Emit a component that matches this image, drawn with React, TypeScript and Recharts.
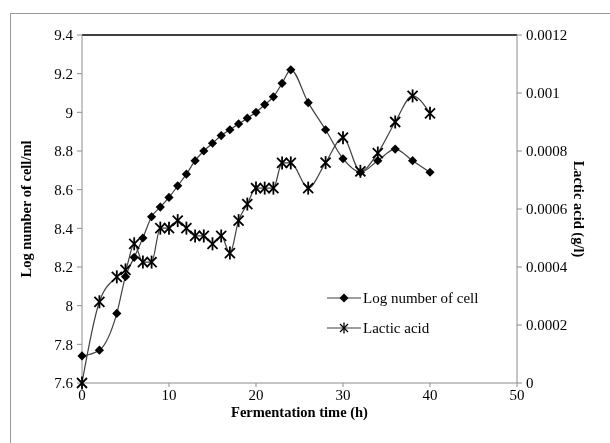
import React from 'react';
import { LineChart, Line, XAxis, YAxis, ReferenceLine } from 'recharts';

const times = [0, 2, 4, 5, 6, 7, 8, 9, 10, 11, 12, 13, 14, 15, 16, 17, 18, 19, 20, 21, 22, 23, 24, 26, 28, 30, 32, 34, 36, 38, 40];
const logCell = [7.74, 7.77, 7.96, 8.15, 8.25, 8.35, 8.46, 8.51, 8.56, 8.62, 8.68, 8.75, 8.8, 8.84, 8.88, 8.91, 8.94, 8.97, 9.0, 9.04, 9.08, 9.15, 9.22, 9.05, 8.91, 8.76, 8.69, 8.75, 8.81, 8.75, 8.69];
const lacticAcid = [0, 0.00028, 0.000366, 0.00039, 0.00048, 0.000417, 0.000417, 0.000534, 0.000534, 0.00056, 0.000534, 0.000507, 0.000507, 0.00048, 0.000507, 0.000448, 0.00056, 0.000617, 0.000672, 0.000672, 0.000672, 0.000759, 0.000759, 0.000672, 0.00076, 0.000846, 0.00073, 0.000793, 0.0009, 0.00099, 0.00093];
const xTicks = [0, 10, 20, 30, 40, 50];
const leftTicks = [7.6, 7.8, 8, 8.2, 8.4, 8.6, 8.8, 9, 9.2, 9.4];
const rightTicks = [0, 0.0002, 0.0004, 0.0006, 0.0008, 0.001, 0.0012];
const seriesNames = ['Log number of cell', 'Lactic acid'];

const data = times.map((t, i) => ({ t, cell: logCell[i], lactic: lacticAcid[i] }));

const FONT = '"Liberation Serif", "Times New Roman", serif';
const LINE = '#404040';
const AXIS = '#8c8c8c';

const Diamond = (props: any) => {
  const { cx, cy } = props;
  if (cx == null || cy == null) return null;
  const r = 4.6;
  return <polygon points={`${cx},${cy - r} ${cx + r},${cy} ${cx},${cy + r} ${cx - r},${cy}`} fill="#000" />;
};

const Star = (props: any) => {
  const { cx, cy } = props;
  if (cx == null || cy == null) return null;
  const a = 5;
  const v = 6.5;
  return (
    <g stroke="#000" strokeWidth={1.8}>
      <line x1={cx - a} y1={cy - a} x2={cx + a} y2={cy + a} />
      <line x1={cx - a} y1={cy + a} x2={cx + a} y2={cy - a} />
      <line x1={cx} y1={cy - v} x2={cx} y2={cy + v} />
    </g>
  );
};

const LegendBox = () => (
  <div style={{ position: 'fixed', left: 327, top: 283, fontFamily: FONT, fontSize: 15, color: '#000', lineHeight: '30px' }}>
    <div style={{ display: 'flex', alignItems: 'center' }}>
      <svg width={34} height={14}>
        <line x1={0} y1={7} x2={34} y2={7} stroke={LINE} strokeWidth={1.2} />
        <polygon points="17,2.5 21.5,7 17,11.5 12.5,7" fill="#000" />
      </svg>
      <span style={{ marginLeft: 2 }}>{seriesNames[0]}</span>
    </div>
    <div style={{ display: 'flex', alignItems: 'center' }}>
      <svg width={34} height={14}>
        <line x1={0} y1={7} x2={34} y2={7} stroke={LINE} strokeWidth={1.2} />
        <g stroke="#000" strokeWidth={1.3}>
          <line x1={13} y1={3} x2={21} y2={11} />
          <line x1={13} y1={11} x2={21} y2={3} />
          <line x1={17} y1={1.5} x2={17} y2={12.5} />
        </g>
      </svg>
      <span style={{ marginLeft: 2 }}>{seriesNames[1]}</span>
    </div>
  </div>
);

export default function App() {
  return (
    <div>
      <div style={{ position: 'fixed', left: 10, top: 13, width: 600, height: 430, borderLeft: '1px solid #9a9a9a', borderTop: '1px solid #9a9a9a', boxSizing: 'border-box' }} />
      <div style={{ position: 'fixed', left: 0, top: 0, width: 610, height: 443 }}>
        <LineChart width={610} height={443} data={data} margin={{ top: 35, right: 33, bottom: 30, left: 22 }}>
          <XAxis
            dataKey="t"
            type="number"
            domain={[0, 50]}
            ticks={xTicks}
            stroke={AXIS}
            tickSize={4}
            tickMargin={2}
            height={30}
            tick={{ fill: '#000', fontSize: 15, fontFamily: FONT }}
            label={{ value: 'Fermentation time (h)', position: 'insideBottom', offset: -4, fill: '#000', fontSize: 14.5, fontWeight: 'bold', fontFamily: FONT }}
          />
          <YAxis
            yAxisId="left"
            domain={[7.6, 9.4]}
            ticks={leftTicks}
            tickFormatter={(v: number) => String(Number(v.toFixed(1)))}
            stroke={AXIS}
            tickSize={5}
            tickMargin={4}
            width={60}
            interval={0}
            tick={{ fill: '#000', fontSize: 15, fontFamily: FONT }}
            label={{ value: 'Log number of cell/ml', angle: -90, position: 'insideLeft', offset: 4, fill: '#000', fontSize: 14.5, fontWeight: 'bold', fontFamily: FONT, style: { textAnchor: 'middle' } }}
          />
          <YAxis
            yAxisId="right"
            orientation="right"
            domain={[0, 0.0012]}
            ticks={rightTicks}
            tickFormatter={(v: number) => String(Number(v.toFixed(4)))}
            stroke={AXIS}
            tickSize={5}
            tickMargin={4}
            width={60}
            interval={0}
            tick={{ fill: '#000', fontSize: 15, fontFamily: FONT }}
            label={{ value: 'Lactic acid (g/l)', angle: 90, position: 'insideRight', offset: -2, fill: '#000', fontSize: 14.5, fontWeight: 'bold', fontFamily: FONT, style: { textAnchor: 'middle' } }}
          />
          <ReferenceLine yAxisId="left" y={9.4} stroke="#000" strokeWidth={1.3} />
          <Line yAxisId="left" type="monotone" dataKey="cell" stroke={LINE} strokeWidth={1.2} dot={<Diamond />} activeDot={false} isAnimationActive={false} name={seriesNames[0]} />
          <Line yAxisId="right" type="monotone" dataKey="lactic" stroke={LINE} strokeWidth={1.2} dot={<Star />} activeDot={false} isAnimationActive={false} name={seriesNames[1]} />
        </LineChart>
      </div>
      <LegendBox />
    </div>
  );
}
